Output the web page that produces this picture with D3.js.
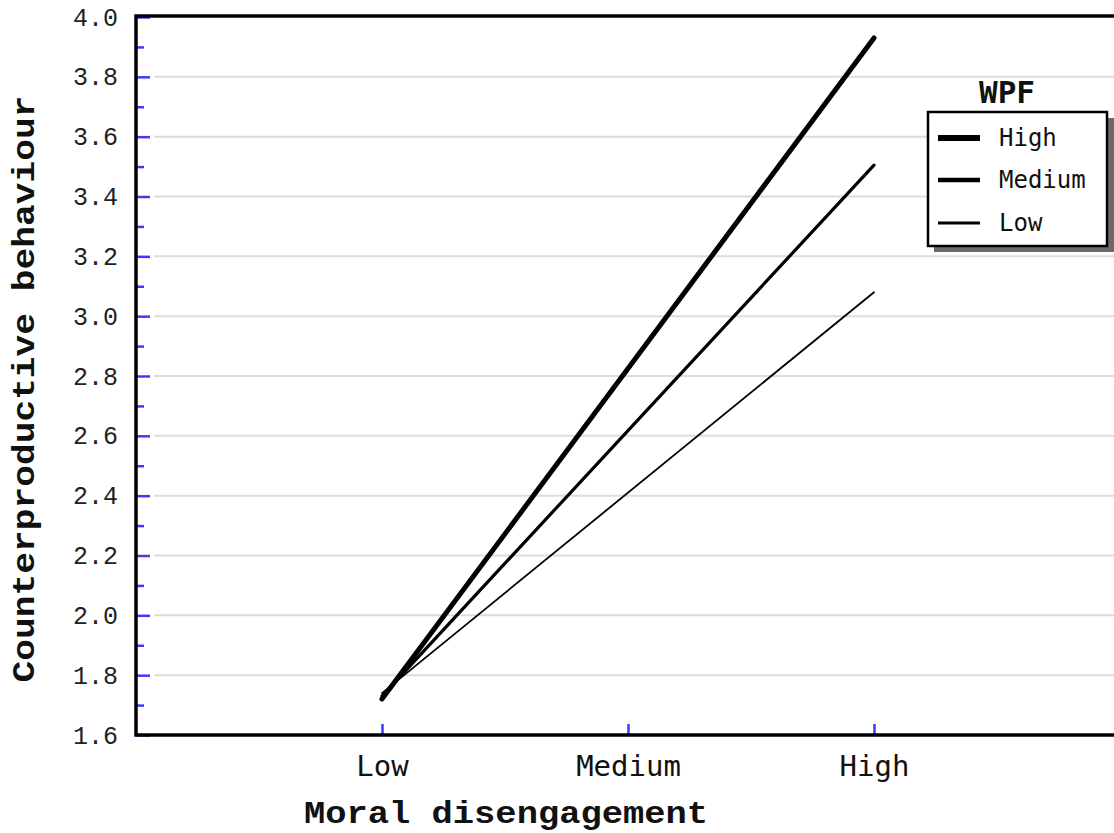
<!DOCTYPE html>
<html lang="en">
<head>
    <meta charset="UTF-8">
    <title>Moral disengagement x WPF</title>
    <style>
        body { margin: 0; background: #fff; }
        .ytick text { font-family: 'Liberation Mono', monospace; font-size: 25px; fill: #222; }
        .xtick text { font-family: 'DejaVu Sans Mono', monospace; font-size: 29px; fill: #111; }
        .axis-title { font-family: 'Liberation Mono', monospace; font-weight: bold; font-size: 32px; fill: #111; }
        .legend text { font-family: 'DejaVu Sans Mono', monospace; font-size: 24px; fill: #111; }
    </style>
</head>
<body>
    <svg id="chart" width="1114" height="833"></svg>

    <script src="https://d3js.org/d3.v7.min.js"></script>
    <script>
        // Data
        const categories = ["Low", "Medium", "High"];
        const seriesNames = ["High", "Medium", "Low"];
        const pointCats = ["Low", "High"];      // lines are drawn between these two levels
        const wpfHigh = [1.72, 3.93];
        const wpfMedium = [1.73, 3.505];
        const wpfLow = [1.74, 3.08];
        const lineWidths = [5, 3.2, 1.8];
        const legendWidths = [6, 4.5, 3];

        const svg = d3.select("#chart");
        const W = 1114, H = 833;
        const plotLeft = 136, plotTop = 16, plotBottom = 735;

        // x: category index 1..3, plot runs past the right edge of the picture
        const x = d3.scaleLinear().domain([0, 4]).range([plotLeft, 1120]);
        const y = d3.scaleLinear().domain([1.6, 4.0]).range([plotBottom, 17]);

        const majors = d3.range(1.6, 4.01, 0.2).map(v => +v.toFixed(1));
        const minors = d3.range(1.7, 4.0, 0.2).map(v => +v.toFixed(1));

        // grid lines
        svg.append("g").selectAll("line")
            .data(majors.filter(v => v > 1.6 && v < 4.0))
            .join("line")
            .attr("x1", 154).attr("x2", W)
            .attr("y1", d => y(d)).attr("y2", d => y(d))
            .attr("stroke", "#dcdcdc").attr("stroke-width", 2);

        // y axis major ticks + labels
        const yAxis = svg.append("g")
            .attr("class", "ytick")
            .attr("transform", `translate(${plotLeft},0)`)
            .call(d3.axisLeft(y).tickValues(majors).tickFormat(d3.format(".1f")).tickSize(-14).tickPadding(18));
        yAxis.select(".domain").remove();
        yAxis.selectAll("line").attr("stroke", "#3b3bff").attr("stroke-width", 2.5);

        // y axis minor ticks
        const yMinor = svg.append("g")
            .attr("transform", `translate(${plotLeft},0)`)
            .call(d3.axisLeft(y).tickValues(minors).tickFormat("").tickSize(-8));
        yMinor.select(".domain").remove();
        yMinor.selectAll("line").attr("stroke", "#3b3bff").attr("stroke-width", 2.5);

        // x axis ticks + labels
        const xAxis = svg.append("g")
            .attr("class", "xtick")
            .attr("transform", `translate(0,${plotBottom})`)
            .call(d3.axisBottom(x).tickValues([1, 2, 3]).tickFormat(i => categories[i - 1]).tickSize(-11).tickPadding(20));
        xAxis.select(".domain").remove();
        xAxis.selectAll("line").attr("stroke", "#3b3bff").attr("stroke-width", 2.5);
        xAxis.selectAll("text").attr("dy", "0.71em");

        // frame: left, top and bottom lines
        svg.append("path")
            .attr("d", `M${W + 5},${plotTop} H${plotLeft} V${plotBottom} H${W + 5}`)
            .attr("fill", "none").attr("stroke", "#000").attr("stroke-width", 3.5);

        // series lines
        const seriesVals = [wpfHigh, wpfMedium, wpfLow];
        const line = d3.line()
            .x(d => x(categories.indexOf(d.cat) + 1))
            .y(d => y(d.v));

        seriesVals.forEach((vals, s) => {
            const pts = pointCats.map((c, i) => ({ cat: c, v: vals[i] }));
            svg.append("path")
                .datum(pts)
                .attr("d", line)
                .attr("fill", "none")
                .attr("stroke", "#000")
                .attr("stroke-width", lineWidths[s])
                .attr("stroke-linecap", "round");
        });

        // axis titles
        svg.append("text")
            .attr("class", "axis-title")
            .attr("x", 506).attr("y", 823)
            .attr("text-anchor", "middle")
            .attr("textLength", 404).attr("lengthAdjust", "spacingAndGlyphs")
            .text("Moral disengagement");

        svg.append("text")
            .attr("class", "axis-title")
            .attr("transform", "translate(34,389) rotate(-90)")
            .attr("text-anchor", "middle")
            .attr("textLength", 587).attr("lengthAdjust", "spacingAndGlyphs")
            .text("Counterproductive behaviour");

        // legend
        const legend = svg.append("g").attr("class", "legend");
        legend.append("text")
            .attr("x", 1007).attr("y", 103)
            .attr("text-anchor", "middle")
            .style("font-size", "31px").style("font-weight", "bold")
            .text("WPF");
        legend.append("rect")
            .attr("x", 934).attr("y", 118).attr("width", 180).attr("height", 134)
            .attr("fill", "#6a6a6a");
        legend.append("rect")
            .attr("x", 928).attr("y", 112).attr("width", 179).attr("height", 134)
            .attr("fill", "#fff").attr("stroke", "#000").attr("stroke-width", 2.5);

        const rowY = [138, 180, 223];
        seriesNames.forEach((name, i) => {
            legend.append("line")
                .attr("x1", 938).attr("x2", 980)
                .attr("y1", rowY[i]).attr("y2", rowY[i])
                .attr("stroke", "#000").attr("stroke-width", legendWidths[i]);
            legend.append("text")
                .attr("x", 999).attr("y", rowY[i])
                .attr("dy", "0.35em")
                .text(name);
        });
    </script>
</body>
</html>
